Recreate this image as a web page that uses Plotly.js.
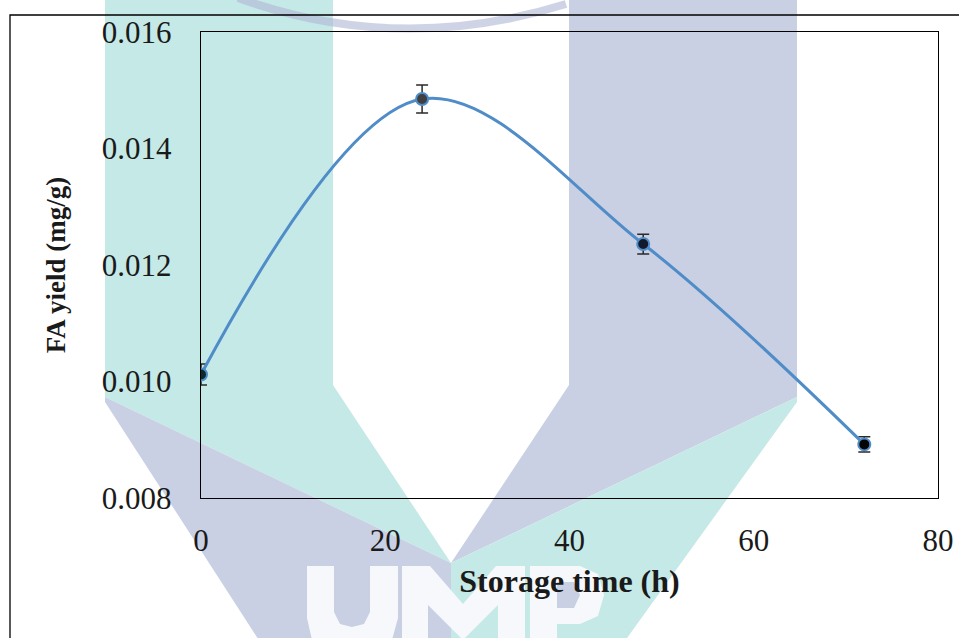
<!DOCTYPE html>
<html>
<head>
<meta charset="utf-8">
<script src="https://cdn.plot.ly/plotly-3.0.1.min.js"></script>
<style>html,body{margin:0;padding:0;background:#fff;}#chart{width:959px;height:638px;}</style>
</head>
<body>
<div id="chart"></div>
<script>
// ---- data ----
const storageHours = [0, 24, 48, 72];
const faYield = [0.01012, 0.01485, 0.01236, 0.00892];
const faYieldError = [0.00018, 0.00024, 0.00017, 0.00013];
const xTickValues = [0, 20, 40, 60, 80];
const yTickValues = [0.008, 0.010, 0.012, 0.014, 0.016];

// ---- styles ----
const markerFill = ['#0c2a2a', '#404040', '#101a2c', '#050505'];
const lineBlue = '#4f8cc8';
const teal = '#c5e9e7';
const lavender = '#c9d0e3';
const serif = 'Liberation Serif, Times New Roman, serif';

// pixel -> paper helpers for the background watermark (plot area 201..938 x 32..498)
const L = 201, R = 938, T = 32, B = 498;
const px = x => ((x - L) / (R - L)).toFixed(5);
const py = y => ((B - y) / (B - T)).toFixed(5);
const poly = pts => 'M' + pts.map(p => px(p[0]) + ',' + py(p[1])).join(' L') + ' Z';

const wm = [];
function addPoly(pts, color) {
  wm.push({type: 'path', xref: 'paper', yref: 'paper', layer: 'below',
    path: poly(pts), fillcolor: color, line: {width: 0}});
}
// left teal bar with diagonal end
addPoly([[105, -5], [333, -5], [333, 385], [451, 563], [105, 397]], teal);
// lavender stripe under it
addPoly([[105, 397], [451, 563], [451, 645], [262, 645], [105, 402]], lavender);
// right lavender bar with diagonal end
addPoly([[569, -5], [797, -5], [797, 397], [451, 563], [569, 385]], lavender);
// teal stripe under it
addPoly([[797, 397], [451, 563], [451, 645], [622, 645], [797, 402]], teal);
// arc at top
wm.push({type: 'path', xref: 'paper', yref: 'paper', layer: 'below',
  path: 'M' + px(238) + ',' + py(-2) + ' Q' + px(400) + ',' + py(56) + ' ' + px(566) + ',' + py(4),
  line: {color: 'rgba(175,182,214,0.6)', width: 8}});
// "UMP" letters cut out in white
addPoly([[307, 566], [334, 566], [334, 612], [340, 624], [352, 627], [364, 624], [370, 612], [370, 566],
  [398, 566], [398, 618], [392, 640], [352, 660], [312, 640], [307, 618]], '#f6f8fb');
addPoly([[402, 566], [430, 566], [463, 604], [496, 566], [525, 566], [525, 645], [498, 645], [498, 605],
  [463, 640], [428, 605], [428, 645], [402, 645]], '#f6f8fb');
addPoly([[530, 566], [580, 566], [598, 574], [604, 595], [598, 616], [580, 624], [557, 624], [557, 645], [530, 645]], '#f6f8fb');
addPoly([[557, 582], [574, 582], [580, 595], [574, 608], [557, 608]], lavender);
// outer frame
wm.push({type: 'rect', xref: 'paper', yref: 'paper', layer: 'above',
  x0: px(10), y0: py(15), x1: px(990), y1: py(700), line: {color: '#000', width: 1.3}, fillcolor: 'rgba(0,0,0,0)'});

const trace = {
  type: 'scatter', mode: 'lines+markers',
  x: storageHours, y: faYield,
  line: {shape: 'spline', smoothing: 1, color: lineBlue, width: 3},
  marker: {size: 12, color: markerFill, line: {color: lineBlue, width: 2}},
  error_y: {type: 'data', array: faYieldError, visible: true, color: '#2a2a2a', thickness: 1.5, width: 6},
  hoverinfo: 'x+y'
};

const layout = {
  width: 959, height: 638,
  margin: {l: L, r: 959 - R, t: T, b: 638 - B},
  paper_bgcolor: '#ffffff', plot_bgcolor: 'rgba(0,0,0,0)',
  showlegend: false,
  font: {family: serif, color: '#1a1a1a'},
  xaxis: {
    range: [0, 80], tickvals: xTickValues, ticktext: xTickValues.map(String),
    showline: true, mirror: true, linecolor: '#000', linewidth: 1.3,
    showgrid: false, zeroline: false, ticks: '', ticklabelstandoff: 14,
    tickfont: {family: serif, size: 31, color: '#1a1a1a'},
    title: {text: '<b>Storage time (h)</b>', font: {family: serif, size: 32, color: '#1a1a1a'}, standoff: 13},
    automargin: false
  },
  yaxis: {
    range: [0.008, 0.016], tickvals: yTickValues, ticktext: yTickValues.map(v => v.toFixed(3)),
    showline: true, mirror: true, linecolor: '#000', linewidth: 1.3,
    showgrid: false, zeroline: false, ticks: '', ticklabelstandoff: 22,
    tickfont: {family: serif, size: 31, color: '#1a1a1a'},
    title: {text: '<b>FA yield (mg/g)</b>', font: {family: serif, size: 27, color: '#1a1a1a'}, standoff: 28},
    automargin: false
  },
  shapes: wm
};

Plotly.newPlot('chart', [trace], layout, {displayModeBar: false, staticPlot: true});
</script>
</body>
</html>
